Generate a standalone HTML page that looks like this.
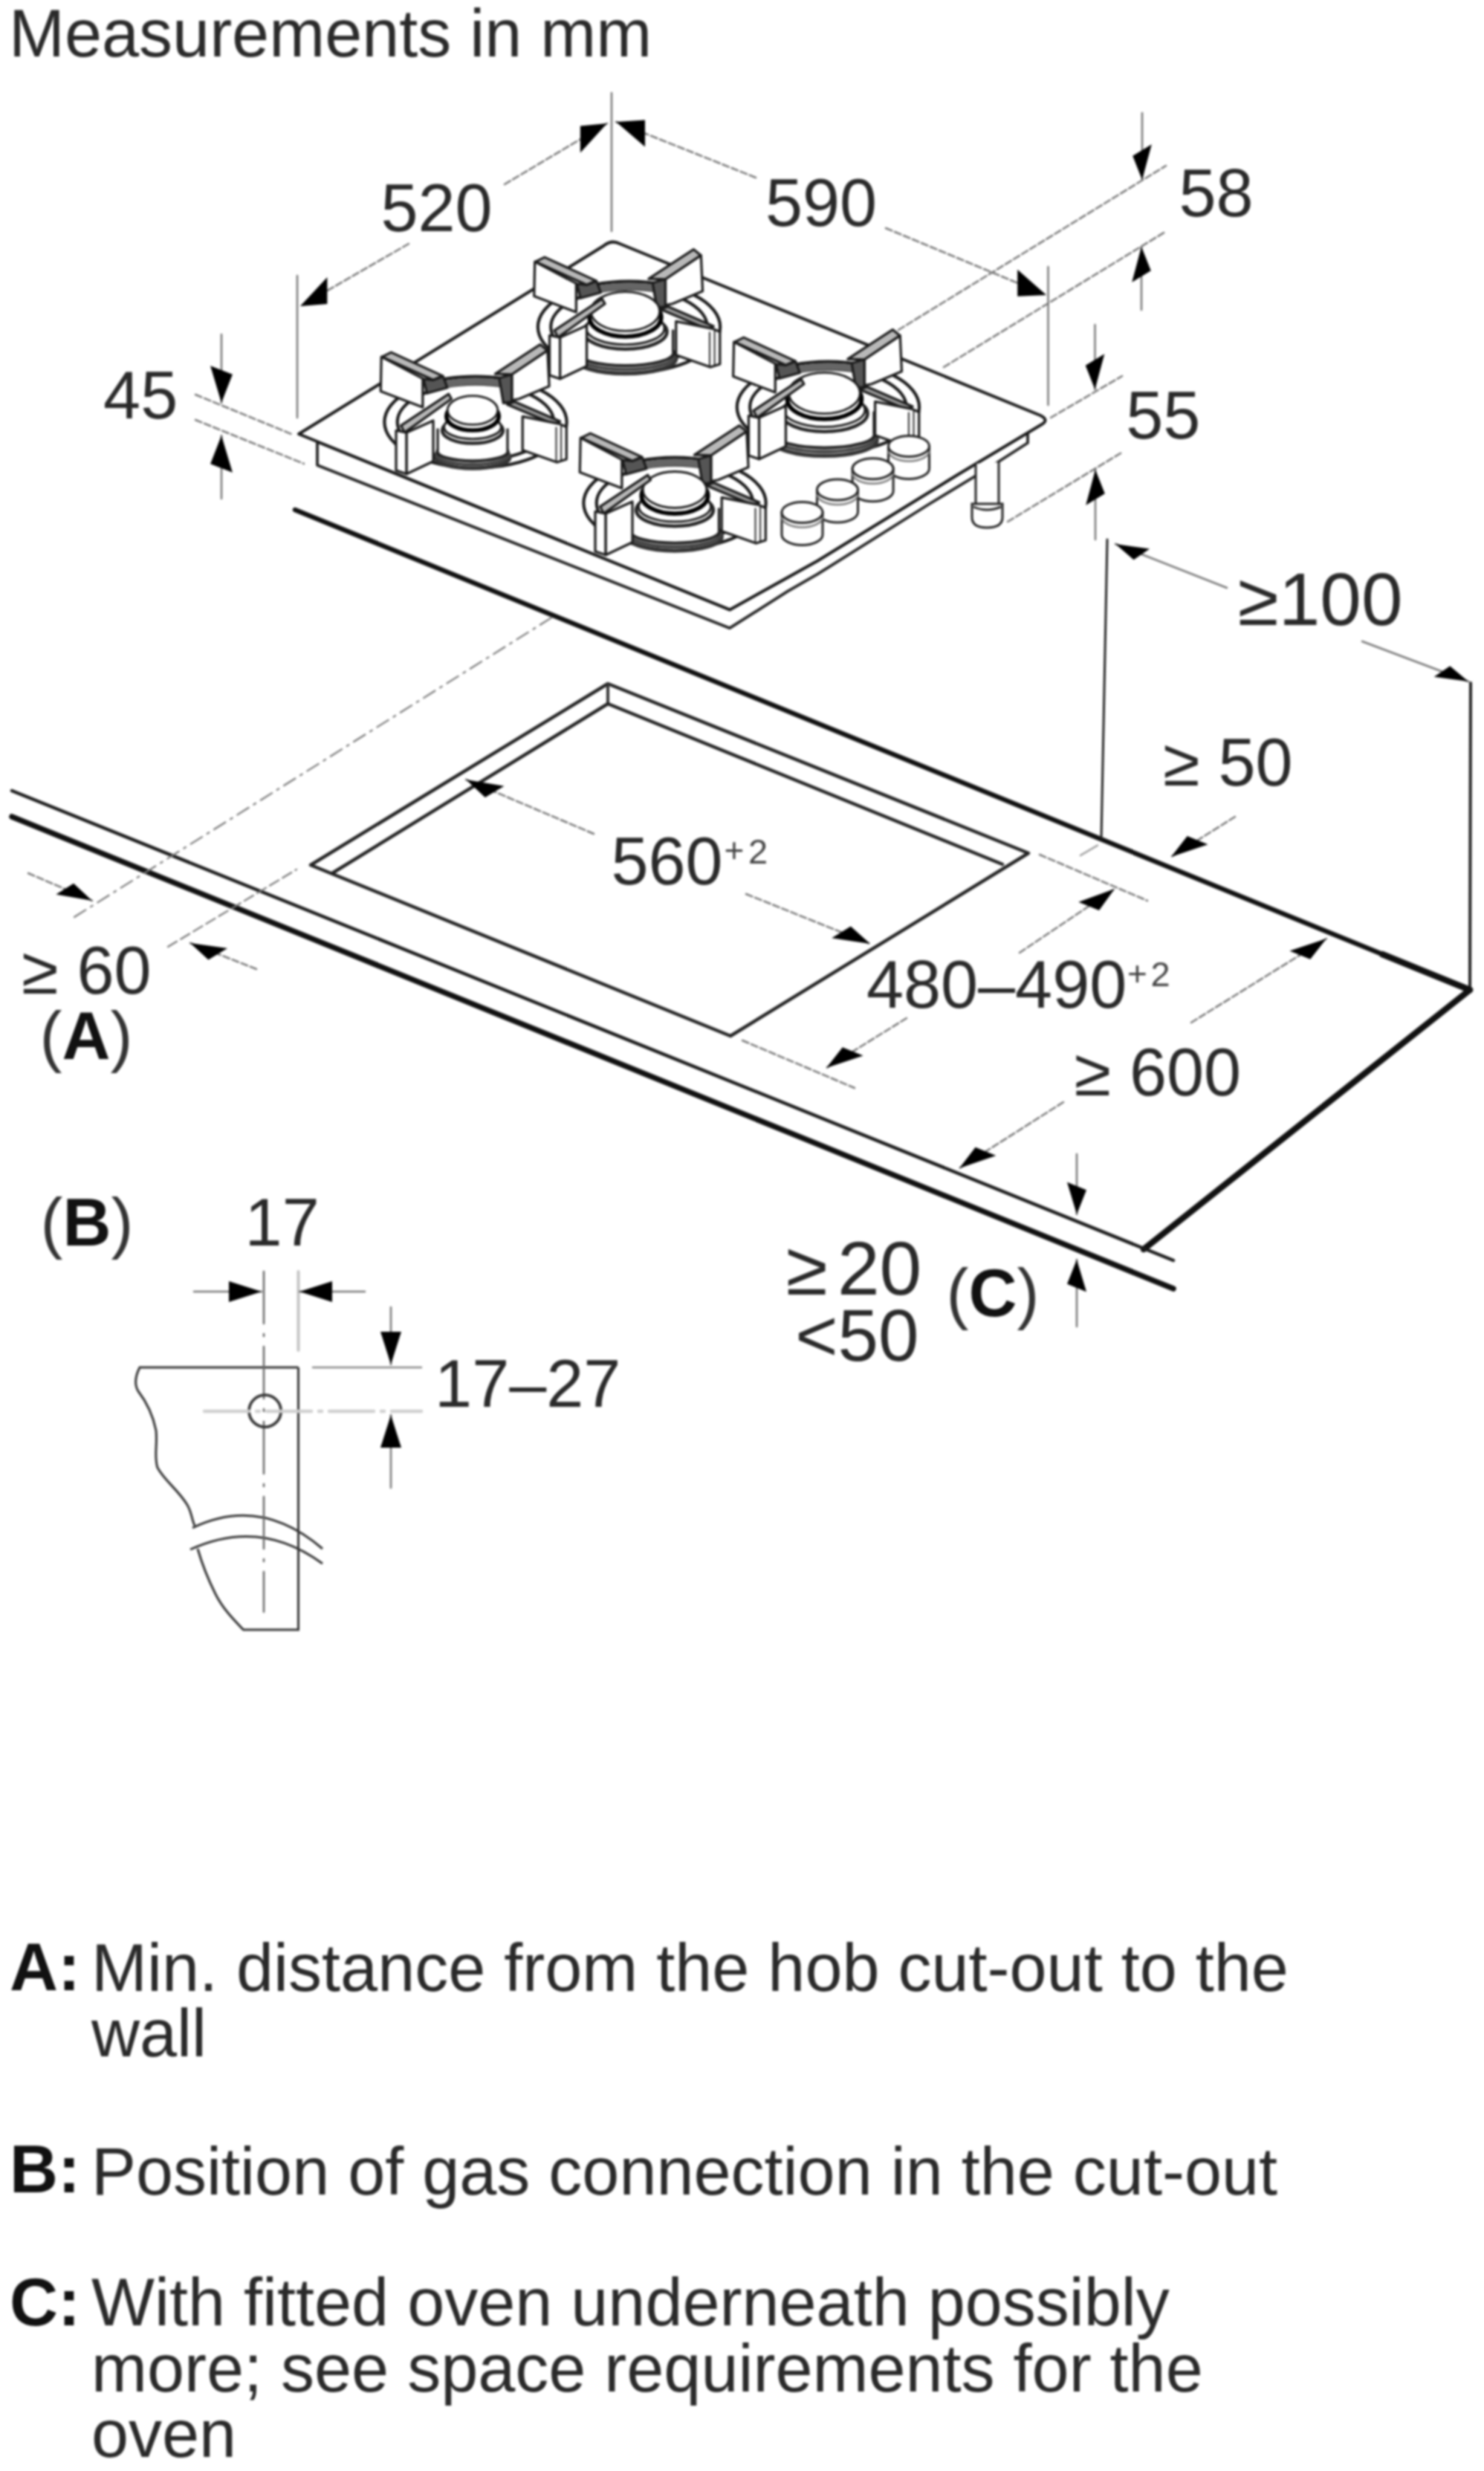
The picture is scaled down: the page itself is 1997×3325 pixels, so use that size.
<!DOCTYPE html>
<html><head><meta charset="utf-8"><style>html,body{margin:0;padding:0;background:#fff;}svg{display:block;filter:blur(1.8px)}</style></head>
<body>
<svg width="1997" height="3325" viewBox="0 0 1997 3325" font-family="Liberation Sans, sans-serif">
<rect width="100%" height="100%" fill="#fff"/>
<text x="12.0" y="76.0" font-size="90" font-weight="normal" text-anchor="start" fill="#2a2a2a">Measurements in mm</text>
<line x1="397.0" y1="686.0" x2="1870.0" y2="1288.0" stroke="#111" stroke-width="6.5" stroke-linecap="round"/>
<line x1="1860.0" y1="1284.0" x2="1978.0" y2="1332.0" stroke="#111" stroke-width="8.5" stroke-linecap="round"/>
<line x1="1979.0" y1="919.0" x2="1978.0" y2="1332.0" stroke="#222" stroke-width="4" stroke-linecap="round"/>
<line x1="1978.0" y1="1332.0" x2="1539.0" y2="1681.0" stroke="#111" stroke-width="8.5" stroke-linecap="round"/>
<line x1="16.0" y1="1064.0" x2="1579.0" y2="1696.0" stroke="#1a1a1a" stroke-width="4.5" stroke-linecap="round"/>
<line x1="16.0" y1="1099.0" x2="1579.0" y2="1734.0" stroke="#111" stroke-width="7.5" stroke-linecap="round"/>
<line x1="100.0" y1="1234.0" x2="744.0" y2="830.0" stroke="#777" stroke-width="2.2" stroke-linecap="round" stroke-dasharray="18 8 3 8"/>
<line x1="226.0" y1="1274.0" x2="399.0" y2="1170.0" stroke="#777" stroke-width="2.2" stroke-linecap="round" stroke-dasharray="14 6"/>
<line x1="1490.0" y1="726.0" x2="1482.0" y2="1128.0" stroke="#222" stroke-width="3" stroke-linecap="round"/>
<polygon points="818.0,920.0 1384.0,1148.0 983.0,1394.0 418.0,1164.0" fill="none" stroke="#222" stroke-width="4.5" stroke-linejoin="round"/>
<line x1="818.0" y1="920.0" x2="818.0" y2="947.0" stroke="#333" stroke-width="4" stroke-linecap="round"/>
<line x1="818.0" y1="947.0" x2="1349.0" y2="1163.0" stroke="#222" stroke-width="4.5" stroke-linecap="round"/>
<line x1="818.0" y1="947.0" x2="447.0" y2="1175.0" stroke="#222" stroke-width="4.5" stroke-linecap="round"/>
<polygon points="427.0,594.5 982.0,820.4 1060.0,777.0 1100.0,754.7 1290.0,638.0 1383.0,582.0 1383.0,596.0 1330.0,630.0 1250.0,678.5 1100.0,772.7 1060.0,795.6 982.0,845.2 427.0,626.0" fill="#fff" stroke="#222" stroke-width="3.8" stroke-linejoin="round"/>
<path d="M812,331 Q823,322 834,328 L1400,559 Q1412,565 1402,571 L1290,638 L1100,754.7 L1060,777 L982,820.4 L402,584 Z" fill="#fff" stroke="#1a1a1a" stroke-width="4" stroke-linejoin="round"/>
<path d="M1313,624 L1313,680 L1344,680 L1344,622" fill="#fff" stroke="#222" stroke-width="3"/>
<path d="M1308,678 L1308,696 Q1308,710 1328,710 Q1349,710 1349,696 L1349,678 Z" fill="#fff" stroke="#222" stroke-width="3"/>
<path d="M1310,682 Q1328,690 1347,682" fill="none" stroke="#222" stroke-width="3"/>
<g transform="translate(846.5,422) scale(0.1887) translate(-732,-470)" stroke="#1a1a1a" stroke-width="17" stroke-linejoin="round">
<ellipse cx="732" cy="565" rx="650" ry="325" fill="#fff" stroke-width="22"/>
<ellipse cx="732" cy="565" rx="558" ry="272" fill="#fff" stroke-width="22"/>
<path d="M430,315 Q732,232 1040,315" fill="none" stroke="#666" stroke-width="50"/>
<polygon points="360,258 430,265 500,238 530,320 385,360" fill="#555"/>
<polygon points="65,100 130,68 495,235 430,265" fill="#b8b8b8"/>
<polygon points="60,100 355,255 355,460 55,345" fill="#fff"/>
<polygon points="900,250 992,225 992,420 930,430" fill="#555"/>
<polygon points="872,222 1192,12 1245,55 992,225" fill="#b8b8b8"/>
<polygon points="992,225 1245,55 1257,310 1042,400 992,410" fill="#fff"/>
</g>
<g transform="translate(841.5,419) scale(0.1887) translate(-732,-470)" stroke="#1a1a1a" stroke-width="17" stroke-linejoin="round">
<ellipse cx="732" cy="805" rx="362" ry="108" fill="#fff" stroke="#333" stroke-width="28"/>
<ellipse cx="732" cy="785" rx="351" ry="99" fill="#fff" stroke="#444" stroke-width="24"/>
<ellipse cx="732" cy="765" rx="343" ry="92" fill="#fff" stroke="#222" stroke-width="22"/>
<rect x="392" y="600" width="680" height="165" fill="#fff" stroke="none"/>
<line x1="392" y1="600" x2="392" y2="765"/><line x1="1072" y1="600" x2="1072" y2="765"/>
<ellipse cx="732" cy="615" rx="297" ry="124" fill="#fff" stroke="#222" stroke-width="24"/>
<ellipse cx="732" cy="590" rx="279" ry="117" fill="#fff" stroke="#1a1a1a" stroke-width="16"/>
<ellipse cx="732" cy="512" rx="256" ry="138" fill="#fff" stroke="#000" stroke-width="30"/>
<ellipse cx="732" cy="470" rx="245" ry="140" fill="#fff" stroke="#1a1a1a" stroke-width="15"/>
</g>
<g transform="translate(846.5,422) scale(0.1887) translate(-732,-470)" stroke="#1a1a1a" stroke-width="17" stroke-linejoin="round">
<polygon points="200,590 540,365 560,400 225,640" fill="#b8b8b8"/>
<polygon points="165,625 240,640 240,935 165,910" fill="#fff"/>
<polygon points="240,640 430,555 430,845 240,935" fill="#fff"/>
<polygon points="957,440 1010,420 1335,560 1290,580" fill="#999"/>
<polygon points="1067,525 1330,578 1380,600 1380,830 1312,852 1067,765" fill="#fff"/>
<line x1="1307" y1="600" x2="1307" y2="850" stroke-width="10"/><line x1="1342" y1="590" x2="1342" y2="845" stroke-width="10"/>
</g>
<g transform="translate(640,550) scale(0.1887) translate(-732,-470)" stroke="#1a1a1a" stroke-width="17" stroke-linejoin="round">
<ellipse cx="732" cy="565" rx="650" ry="325" fill="#fff" stroke-width="22"/>
<ellipse cx="732" cy="565" rx="558" ry="272" fill="#fff" stroke-width="22"/>
<path d="M430,315 Q732,232 1040,315" fill="none" stroke="#666" stroke-width="50"/>
<polygon points="360,258 430,265 500,238 530,320 385,360" fill="#555"/>
<polygon points="65,100 130,68 495,235 430,265" fill="#b8b8b8"/>
<polygon points="60,100 355,255 355,460 55,345" fill="#fff"/>
<polygon points="900,250 992,225 992,420 930,430" fill="#555"/>
<polygon points="872,222 1192,12 1245,55 992,225" fill="#b8b8b8"/>
<polygon points="992,225 1245,55 1257,310 1042,400 992,410" fill="#fff"/>
</g>
<g transform="translate(636,552) scale(0.1887) translate(-732,-470)" stroke="#1a1a1a" stroke-width="17" stroke-linejoin="round">
<ellipse cx="732" cy="805" rx="265" ry="79" fill="#fff" stroke="#333" stroke-width="28"/>
<ellipse cx="732" cy="785" rx="257" ry="73" fill="#fff" stroke="#444" stroke-width="24"/>
<ellipse cx="732" cy="765" rx="251" ry="67" fill="#fff" stroke="#222" stroke-width="22"/>
<rect x="483" y="600" width="498" height="165" fill="#fff" stroke="none"/>
<line x1="483" y1="600" x2="483" y2="765"/><line x1="981" y1="600" x2="981" y2="765"/>
<ellipse cx="732" cy="615" rx="217" ry="91" fill="#fff" stroke="#222" stroke-width="24"/>
<ellipse cx="732" cy="590" rx="204" ry="85" fill="#fff" stroke="#1a1a1a" stroke-width="16"/>
<ellipse cx="732" cy="512" rx="187" ry="101" fill="#fff" stroke="#000" stroke-width="30"/>
<ellipse cx="732" cy="470" rx="179" ry="103" fill="#fff" stroke="#1a1a1a" stroke-width="15"/>
</g>
<g transform="translate(640,550) scale(0.1887) translate(-732,-470)" stroke="#1a1a1a" stroke-width="17" stroke-linejoin="round">
<polygon points="200,590 540,365 560,400 225,640" fill="#b8b8b8"/>
<polygon points="165,625 240,640 240,935 165,910" fill="#fff"/>
<polygon points="240,640 430,555 430,845 240,935" fill="#fff"/>
<polygon points="957,440 1010,420 1335,560 1290,580" fill="#999"/>
<polygon points="1067,525 1330,578 1380,600 1380,830 1312,852 1067,765" fill="#fff"/>
<line x1="1307" y1="600" x2="1307" y2="850" stroke-width="10"/><line x1="1342" y1="590" x2="1342" y2="845" stroke-width="10"/>
</g>
<g transform="translate(1114.4,530) scale(0.1887) translate(-732,-470)" stroke="#1a1a1a" stroke-width="17" stroke-linejoin="round">
<ellipse cx="732" cy="565" rx="650" ry="325" fill="#fff" stroke-width="22"/>
<ellipse cx="732" cy="565" rx="558" ry="272" fill="#fff" stroke-width="22"/>
<path d="M430,315 Q732,232 1040,315" fill="none" stroke="#666" stroke-width="50"/>
<polygon points="360,258 430,265 500,238 530,320 385,360" fill="#555"/>
<polygon points="65,100 130,68 495,235 430,265" fill="#b8b8b8"/>
<polygon points="60,100 355,255 355,460 55,345" fill="#fff"/>
<polygon points="900,250 992,225 992,420 930,430" fill="#555"/>
<polygon points="872,222 1192,12 1245,55 992,225" fill="#b8b8b8"/>
<polygon points="992,225 1245,55 1257,310 1042,400 992,410" fill="#fff"/>
</g>
<g transform="translate(1109.4,529) scale(0.1887) translate(-732,-470)" stroke="#1a1a1a" stroke-width="17" stroke-linejoin="round">
<ellipse cx="732" cy="805" rx="375" ry="112" fill="#fff" stroke="#333" stroke-width="28"/>
<ellipse cx="732" cy="785" rx="364" ry="103" fill="#fff" stroke="#444" stroke-width="24"/>
<ellipse cx="732" cy="765" rx="356" ry="95" fill="#fff" stroke="#222" stroke-width="22"/>
<rect x="379" y="600" width="706" height="165" fill="#fff" stroke="none"/>
<line x1="379" y1="600" x2="379" y2="765"/><line x1="1085" y1="600" x2="1085" y2="765"/>
<ellipse cx="732" cy="615" rx="308" ry="129" fill="#fff" stroke="#222" stroke-width="24"/>
<ellipse cx="732" cy="590" rx="289" ry="121" fill="#fff" stroke="#1a1a1a" stroke-width="16"/>
<ellipse cx="732" cy="512" rx="265" ry="143" fill="#fff" stroke="#000" stroke-width="30"/>
<ellipse cx="732" cy="470" rx="254" ry="146" fill="#fff" stroke="#1a1a1a" stroke-width="15"/>
</g>
<g transform="translate(1114.4,530) scale(0.1887) translate(-732,-470)" stroke="#1a1a1a" stroke-width="17" stroke-linejoin="round">
<polygon points="200,590 540,365 560,400 225,640" fill="#b8b8b8"/>
<polygon points="165,625 240,640 240,935 165,910" fill="#fff"/>
<polygon points="240,640 430,555 430,845 240,935" fill="#fff"/>
<polygon points="957,440 1010,420 1335,560 1290,580" fill="#999"/>
<polygon points="1067,525 1330,578 1380,600 1380,830 1312,852 1067,765" fill="#fff"/>
<line x1="1307" y1="600" x2="1307" y2="850" stroke-width="10"/><line x1="1342" y1="590" x2="1342" y2="845" stroke-width="10"/>
</g>
<path d="M1195.5,600.4 L1195.5,630.4 A27.5,14 0 0 0 1250.5,630.4 L1250.5,600.4 Z" fill="#fff" stroke="#222" stroke-width="3"/>
<path d="M1195.5,606.4 A27.5,14 0 0 0 1250.5,606.4" fill="none" stroke="#777" stroke-width="2.5"/>
<ellipse cx="1223" cy="600.4" rx="27.5" ry="14" fill="#fff" stroke="#222" stroke-width="3"/>
<path d="M1147.1,630.8 L1147.1,660.8 A27.5,14 0 0 0 1202.1,660.8 L1202.1,630.8 Z" fill="#fff" stroke="#222" stroke-width="3"/>
<path d="M1147.1,636.8 A27.5,14 0 0 0 1202.1,636.8" fill="none" stroke="#777" stroke-width="2.5"/>
<ellipse cx="1174.6" cy="630.8" rx="27.5" ry="14" fill="#fff" stroke="#222" stroke-width="3"/>
<path d="M1099.5,659 L1099.5,689 A27.5,14 0 0 0 1154.5,689 L1154.5,659 Z" fill="#fff" stroke="#222" stroke-width="3"/>
<path d="M1099.5,665 A27.5,14 0 0 0 1154.5,665" fill="none" stroke="#777" stroke-width="2.5"/>
<ellipse cx="1127" cy="659" rx="27.5" ry="14" fill="#fff" stroke="#222" stroke-width="3"/>
<path d="M1052.0,689.4 L1052.0,719.4 A27.5,14 0 0 0 1107.0,719.4 L1107.0,689.4 Z" fill="#fff" stroke="#222" stroke-width="3"/>
<path d="M1052.0,695.4 A27.5,14 0 0 0 1107.0,695.4" fill="none" stroke="#777" stroke-width="2.5"/>
<ellipse cx="1079.5" cy="689.4" rx="27.5" ry="14" fill="#fff" stroke="#222" stroke-width="3"/>
<g transform="translate(908,659) scale(0.1887) translate(-732,-470)" stroke="#1a1a1a" stroke-width="17" stroke-linejoin="round">
<ellipse cx="732" cy="565" rx="650" ry="325" fill="#fff" stroke-width="22"/>
<ellipse cx="732" cy="565" rx="558" ry="272" fill="#fff" stroke-width="22"/>
<path d="M430,315 Q732,232 1040,315" fill="none" stroke="#666" stroke-width="50"/>
<polygon points="360,258 430,265 500,238 530,320 385,360" fill="#555"/>
<polygon points="65,100 130,68 495,235 430,265" fill="#b8b8b8"/>
<polygon points="60,100 355,255 355,460 55,345" fill="#fff"/>
<polygon points="900,250 992,225 992,420 930,430" fill="#555"/>
<polygon points="872,222 1192,12 1245,55 992,225" fill="#b8b8b8"/>
<polygon points="992,225 1245,55 1257,310 1042,400 992,410" fill="#fff"/>
</g>
<g transform="translate(908,659) scale(0.1887) translate(-732,-470)" stroke="#1a1a1a" stroke-width="17" stroke-linejoin="round">
<ellipse cx="732" cy="805" rx="335" ry="100" fill="#fff" stroke="#333" stroke-width="28"/>
<ellipse cx="732" cy="785" rx="325" ry="92" fill="#fff" stroke="#444" stroke-width="24"/>
<ellipse cx="732" cy="765" rx="318" ry="85" fill="#fff" stroke="#222" stroke-width="22"/>
<rect x="417" y="600" width="630" height="165" fill="#fff" stroke="none"/>
<line x1="417" y1="600" x2="417" y2="765"/><line x1="1047" y1="600" x2="1047" y2="765"/>
<ellipse cx="732" cy="615" rx="275" ry="115" fill="#fff" stroke="#222" stroke-width="24"/>
<ellipse cx="732" cy="590" rx="258" ry="108" fill="#fff" stroke="#1a1a1a" stroke-width="16"/>
<ellipse cx="732" cy="512" rx="237" ry="128" fill="#fff" stroke="#000" stroke-width="30"/>
<ellipse cx="732" cy="470" rx="227" ry="130" fill="#fff" stroke="#1a1a1a" stroke-width="15"/>
</g>
<g transform="translate(908,659) scale(0.1887) translate(-732,-470)" stroke="#1a1a1a" stroke-width="17" stroke-linejoin="round">
<polygon points="200,590 540,365 560,400 225,640" fill="#b8b8b8"/>
<polygon points="165,625 240,640 240,935 165,910" fill="#fff"/>
<polygon points="240,640 430,555 430,845 240,935" fill="#fff"/>
<polygon points="957,440 1010,420 1335,560 1290,580" fill="#999"/>
<polygon points="1067,525 1330,578 1380,600 1380,830 1312,852 1067,765" fill="#fff"/>
<line x1="1307" y1="600" x2="1307" y2="850" stroke-width="10"/><line x1="1342" y1="590" x2="1342" y2="845" stroke-width="10"/>
</g>
<line x1="823.0" y1="125.0" x2="823.0" y2="311.0" stroke="#767676" stroke-width="2.5" stroke-linecap="round"/>
<line x1="400.0" y1="371.0" x2="400.0" y2="562.0" stroke="#767676" stroke-width="2.5" stroke-linecap="round"/>
<line x1="550.0" y1="328.0" x2="404.0" y2="412.0" stroke="#767676" stroke-width="2.5" stroke-linecap="round" stroke-dasharray="9 4"/>
<polygon points="404.0,412.0 440.4,409.1 440.4,373.1" fill="#000"/>
<line x1="679.0" y1="248.0" x2="817.0" y2="166.0" stroke="#767676" stroke-width="2.5" stroke-linecap="round" stroke-dasharray="9 4"/>
<polygon points="817.0,166.0 780.9,205.5 780.9,169.5" fill="#000"/>
<text x="512.4" y="311.0" font-size="90" font-weight="normal" text-anchor="start" fill="#2a2a2a">520</text>
<line x1="1017.0" y1="239.0" x2="829.0" y2="164.0" stroke="#767676" stroke-width="2.5" stroke-linecap="round" stroke-dasharray="9 4"/>
<polygon points="829.0,164.0 868.0,197.6 868.0,161.6" fill="#000"/>
<line x1="1192.0" y1="307.0" x2="1408.0" y2="397.0" stroke="#767676" stroke-width="2.5" stroke-linecap="round" stroke-dasharray="9 4"/>
<polygon points="1408.0,397.0 1369.2,398.8 1369.2,362.8" fill="#000"/>
<line x1="1410.5" y1="359.0" x2="1410.5" y2="545.0" stroke="#767676" stroke-width="2.5" stroke-linecap="round"/>
<text x="1030.0" y="303.5" font-size="90" font-weight="normal" text-anchor="start" fill="#2a2a2a">590</text>
<line x1="263.0" y1="531.0" x2="392.0" y2="584.0" stroke="#767676" stroke-width="2.5" stroke-linecap="round" stroke-dasharray="9 4"/>
<line x1="263.0" y1="565.0" x2="409.0" y2="624.0" stroke="#767676" stroke-width="2.5" stroke-linecap="round" stroke-dasharray="9 4"/>
<line x1="298.0" y1="450.0" x2="298.0" y2="542.0" stroke="#767676" stroke-width="2.5" stroke-linecap="round"/>
<polygon points="298.0,542.0 312.9,503.7 283.1,492.3" fill="#000"/>
<line x1="298.0" y1="671.0" x2="298.0" y2="586.0" stroke="#767676" stroke-width="2.5" stroke-linecap="round"/>
<polygon points="298.0,586.0 312.9,635.7 283.1,624.3" fill="#000"/>
<text x="139.1" y="563.0" font-size="90" font-weight="normal" text-anchor="start" fill="#2a2a2a">45</text>
<line x1="1209.0" y1="444.0" x2="1569.0" y2="223.0" stroke="#767676" stroke-width="2.5" stroke-linecap="round" stroke-dasharray="9 4"/>
<line x1="1270.0" y1="494.0" x2="1568.0" y2="312.0" stroke="#767676" stroke-width="2.5" stroke-linecap="round" stroke-dasharray="9 4"/>
<line x1="1537.0" y1="152.0" x2="1537.0" y2="242.0" stroke="#767676" stroke-width="2.5" stroke-linecap="round"/>
<polygon points="1537.0,242.0 1549.8,194.2 1524.2,209.8" fill="#000"/>
<line x1="1536.0" y1="417.0" x2="1536.0" y2="332.0" stroke="#767676" stroke-width="2.5" stroke-linecap="round"/>
<polygon points="1536.0,332.0 1548.8,364.2 1523.2,379.8" fill="#000"/>
<text x="1586.4" y="291.0" font-size="90" font-weight="normal" text-anchor="start" fill="#2a2a2a">58</text>
<line x1="1414.0" y1="562.0" x2="1510.0" y2="506.0" stroke="#767676" stroke-width="2.5" stroke-linecap="round" stroke-dasharray="9 4"/>
<line x1="1356.0" y1="702.0" x2="1511.0" y2="608.0" stroke="#767676" stroke-width="2.5" stroke-linecap="round" stroke-dasharray="9 4"/>
<line x1="1473.5" y1="437.0" x2="1473.5" y2="524.0" stroke="#767676" stroke-width="2.5" stroke-linecap="round"/>
<polygon points="1473.5,524.0 1486.3,476.2 1460.7,491.8" fill="#000"/>
<line x1="1474.0" y1="726.0" x2="1474.0" y2="632.0" stroke="#767676" stroke-width="2.5" stroke-linecap="round"/>
<polygon points="1474.0,632.0 1486.8,664.2 1461.2,679.8" fill="#000"/>
<text x="1515.3" y="590.0" font-size="90" font-weight="normal" text-anchor="start" fill="#2a2a2a">55</text>
<line x1="1651.0" y1="791.0" x2="1501.0" y2="732.0" stroke="#767676" stroke-width="2.5" stroke-linecap="round"/>
<polygon points="1501.0,732.0 1547.1,738.6 1525.6,753.2" fill="#000"/>
<line x1="1833.0" y1="863.0" x2="1976.0" y2="917.0" stroke="#767676" stroke-width="2.5" stroke-linecap="round"/>
<polygon points="1976.0,917.0 1951.2,896.3 1929.7,910.8" fill="#000"/>
<text x="1665.8" y="841.0" font-size="100" font-weight="normal" text-anchor="start" fill="#2a2a2a">≥100</text>
<line x1="1662.0" y1="1099.0" x2="1576.0" y2="1153.0" stroke="#767676" stroke-width="2.5" stroke-linecap="round" stroke-dasharray="9 4"/>
<polygon points="1576.0,1153.0 1625.5,1136.3 1597.7,1125.0" fill="#000"/>
<text x="1565.1" y="1057.0" font-size="90" font-weight="normal" text-anchor="start" fill="#2a2a2a">≥ 50</text>
<line x1="799.0" y1="1122.0" x2="627.0" y2="1049.0" stroke="#767676" stroke-width="2.5" stroke-linecap="round" stroke-dasharray="9 4"/>
<polygon points="627.0,1049.0 678.5,1057.7 652.8,1073.1" fill="#000"/>
<line x1="1004.0" y1="1203.0" x2="1171.0" y2="1270.0" stroke="#767676" stroke-width="2.5" stroke-linecap="round" stroke-dasharray="9 4"/>
<polygon points="1171.0,1270.0 1144.8,1246.5 1119.2,1262.2" fill="#000"/>
<text x="822.4" y="1190.0" font-size="90" font-weight="normal" text-anchor="start" fill="#2a2a2a">560</text>
<text x="974.5" y="1160.0" font-size="46" font-weight="normal" text-anchor="start" fill="#444">+</text>
<text x="1007.0" y="1161.5" font-size="47" font-weight="normal" text-anchor="start" fill="#444">2</text>
<line x1="1399.0" y1="1150.0" x2="1544.0" y2="1212.0" stroke="#767676" stroke-width="2.5" stroke-linecap="round" stroke-dasharray="9 4"/>
<line x1="999.0" y1="1400.0" x2="1150.0" y2="1464.0" stroke="#767676" stroke-width="2.5" stroke-linecap="round" stroke-dasharray="9 4"/>
<line x1="1372.0" y1="1282.0" x2="1500.0" y2="1196.0" stroke="#767676" stroke-width="2.5" stroke-linecap="round" stroke-dasharray="9 4"/>
<polygon points="1500.0,1196.0 1479.0,1225.1 1451.3,1213.8" fill="#000"/>
<line x1="1220.0" y1="1370.0" x2="1112.0" y2="1437.0" stroke="#767676" stroke-width="2.5" stroke-linecap="round" stroke-dasharray="9 4"/>
<polygon points="1112.0,1437.0 1161.6,1420.5 1133.8,1409.2" fill="#000"/>
<text x="1165.9" y="1355.5" font-size="90" font-weight="normal" text-anchor="start" fill="#2a2a2a">480–490</text>
<text x="1517.0" y="1325.5" font-size="46" font-weight="normal" text-anchor="start" fill="#444">+</text>
<text x="1548.5" y="1327.0" font-size="47" font-weight="normal" text-anchor="start" fill="#444">2</text>
<line x1="1454.0" y1="1151.0" x2="1477.0" y2="1137.5" stroke="#999" stroke-width="2.5" stroke-linecap="round"/>
<line x1="1603.0" y1="1376.0" x2="1785.0" y2="1263.0" stroke="#767676" stroke-width="2.5" stroke-linecap="round" stroke-dasharray="9 4"/>
<polygon points="1785.0,1263.0 1763.2,1290.8 1735.4,1279.5" fill="#000"/>
<line x1="1431.0" y1="1483.0" x2="1291.0" y2="1572.0" stroke="#767676" stroke-width="2.5" stroke-linecap="round" stroke-dasharray="9 4"/>
<polygon points="1291.0,1572.0 1340.3,1555.1 1312.6,1543.8" fill="#000"/>
<text x="1445.6" y="1474.0" font-size="90" font-weight="normal" text-anchor="start" fill="#2a2a2a">≥ 600</text>
<line x1="1449.0" y1="1553.0" x2="1449.0" y2="1634.0" stroke="#767676" stroke-width="2.5" stroke-linecap="round"/>
<polygon points="1449.0,1634.0 1462.0,1601.3 1436.0,1590.7" fill="#000"/>
<line x1="1449.0" y1="1785.0" x2="1449.0" y2="1695.0" stroke="#767676" stroke-width="2.5" stroke-linecap="round"/>
<polygon points="1449.0,1695.0 1462.0,1738.3 1436.0,1727.7" fill="#000"/>
<text x="1057.4" y="1742.0" font-size="102" font-weight="normal" text-anchor="start" fill="#2a2a2a">≥</text>
<text x="1126.9" y="1742.0" font-size="102" font-weight="normal" text-anchor="start" fill="#2a2a2a">20</text>
<text x="1070.2" y="1831.0" font-size="98" font-weight="normal" text-anchor="start" fill="#2a2a2a"><50</text>
<text x="1273.4" y="1770.5" font-size="90" fill="#333">(<tspan font-weight="bold" fill="#111">C</tspan>)</text>
<line x1="38.0" y1="1175.0" x2="124.0" y2="1212.0" stroke="#767676" stroke-width="2.5" stroke-linecap="round" stroke-dasharray="9 4"/>
<polygon points="124.0,1212.0 99.1,1188.8 75.4,1203.6" fill="#000"/>
<line x1="345.0" y1="1304.0" x2="256.0" y2="1269.0" stroke="#767676" stroke-width="2.5" stroke-linecap="round" stroke-dasharray="9 4"/>
<polygon points="256.0,1269.0 306.1,1275.9 280.4,1291.4" fill="#000"/>
<text x="29.1" y="1337.0" font-size="90" font-weight="normal" text-anchor="start" fill="#2a2a2a">≥ 60</text>
<text x="53.4" y="1424.5" font-size="90" fill="#333">(<tspan font-weight="bold" fill="#111">A</tspan>)</text>
<text x="54.4" y="1676" font-size="90" fill="#333">(<tspan font-weight="bold" fill="#111">B</tspan>)</text>
<text x="329.6" y="1676.0" font-size="90" font-weight="normal" text-anchor="start" fill="#2a2a2a">17</text>
<text x="585.1" y="1893.0" font-size="90" font-weight="normal" text-anchor="start" fill="#2a2a2a">17–27</text>
<path d="M401.5,1840 L188,1840 C183,1850 180,1862 186,1872 C196,1885 205,1900 210,1925 C212,1945 207,1960 212,1975 C222,1993 240,2005 252,2025 C258,2035 258,2045 262,2053" fill="none" stroke="#333" stroke-width="3"/>
<path d="M266,2084 C272,2105 280,2125 290,2145 C300,2165 315,2180 327.5,2193 L401.5,2193 L401.5,1840" fill="none" stroke="#333" stroke-width="3"/>
<path d="M259,2056 Q350,2012 434,2084" fill="none" stroke="#333" stroke-width="3"/>
<path d="M256,2085 Q350,2042 434,2104" fill="none" stroke="#333" stroke-width="3"/>
<line x1="355.0" y1="1711.0" x2="355.0" y2="2169.0" stroke="#666" stroke-width="2.5" stroke-linecap="round" stroke-dasharray="70 14 3 14"/>
<line x1="401.5" y1="1711.0" x2="401.5" y2="1817.0" stroke="#c4c4c4" stroke-width="4" stroke-linecap="round"/>
<circle cx="356.6" cy="1898.7" r="21.5" fill="none" stroke="#333" stroke-width="3.8"/>
<line x1="275.0" y1="1899.0" x2="567.0" y2="1899.0" stroke="#cfcfcf" stroke-width="4.5" stroke-linecap="round" stroke-dasharray="60 10 4 10"/>
<line x1="421.0" y1="1840.0" x2="567.0" y2="1840.0" stroke="#888" stroke-width="2.5" stroke-linecap="round"/>
<line x1="261.0" y1="1738.0" x2="352.0" y2="1738.0" stroke="#777" stroke-width="2.5" stroke-linecap="round"/>
<polygon points="352.0,1738.0 308.0,1752.0 308.0,1724.0" fill="#000"/>
<line x1="491.0" y1="1738.0" x2="403.0" y2="1738.0" stroke="#777" stroke-width="2.5" stroke-linecap="round"/>
<polygon points="403.0,1738.0 447.0,1752.0 447.0,1724.0" fill="#000"/>
<line x1="526.0" y1="1759.0" x2="526.0" y2="1836.0" stroke="#777" stroke-width="2.5" stroke-linecap="round"/>
<polygon points="526.0,1836.0 540.0,1792.0 512.0,1792.0" fill="#000"/>
<line x1="526.0" y1="2002.0" x2="526.0" y2="1904.0" stroke="#777" stroke-width="2.5" stroke-linecap="round"/>
<polygon points="526.0,1904.0 540.0,1948.0 512.0,1948.0" fill="#000"/>
<text x="13.0" y="2678.0" font-size="90" font-weight="bold" text-anchor="start" fill="#111">A:</text>
<text x="123.0" y="2679.0" font-size="90" font-weight="normal" text-anchor="start" fill="#2a2a2a">Min. distance from the hob cut-out to the</text>
<text x="123.0" y="2767.0" font-size="90" font-weight="normal" text-anchor="start" fill="#2a2a2a">wall</text>
<text x="13.0" y="2950.0" font-size="90" font-weight="bold" text-anchor="start" fill="#111">B:</text>
<text x="123.0" y="2953.0" font-size="90" font-weight="normal" text-anchor="start" fill="#2a2a2a">Position of gas connection in the cut-out</text>
<text x="13.0" y="3129.0" font-size="90" font-weight="bold" text-anchor="start" fill="#111">C:</text>
<text x="123.0" y="3129.0" font-size="90" font-weight="normal" text-anchor="start" fill="#2a2a2a">With fitted oven underneath possibly</text>
<text x="123.0" y="3218.0" font-size="90" font-weight="normal" text-anchor="start" fill="#2a2a2a">more; see space requirements for the</text>
<text x="123.0" y="3306.0" font-size="90" font-weight="normal" text-anchor="start" fill="#2a2a2a">oven</text>
</svg>
</body></html>
